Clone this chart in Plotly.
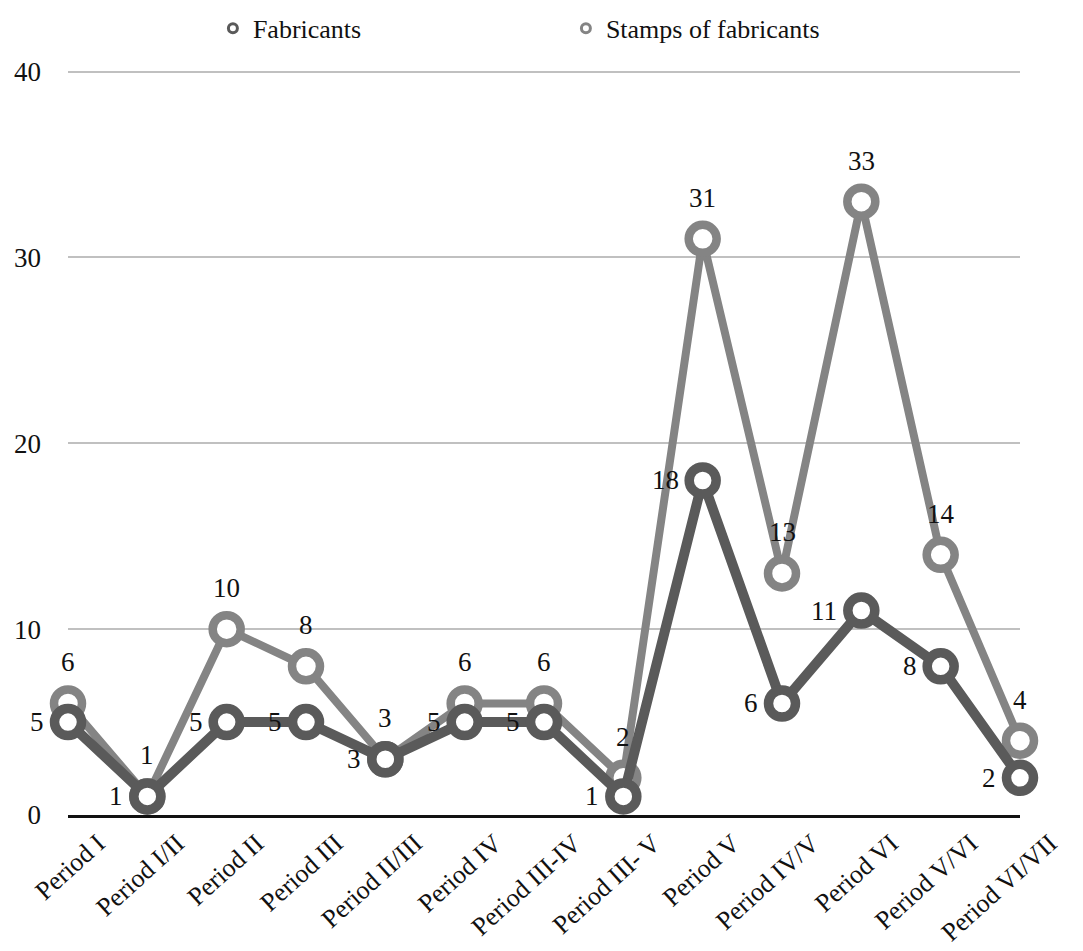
import plotly.graph_objects as go

# Categories and series
periods = [
    "Period I", "Period I/II", "Period II", "Period III", "Period II/III",
    "Period IV", "Period III-IV", "Period III- V", "Period V", "Period IV/V",
    "Period VI", "Period V/VI", "Period VI/VII",
]
fabricants = [5, 1, 5, 5, 3, 5, 5, 1, 18, 6, 11, 8, 2]
stamps = [6, 1, 10, 8, 3, 6, 6, 2, 31, 13, 33, 14, 4]
y_ticks = [0, 10, 20, 30, 40]

DARK = "#5a5a5a"
LIGHT = "#848484"
FONT = "Liberation Serif"

fig = go.Figure()

# Stamps drawn first so the Fabricants series sits on top
fig.add_trace(go.Scatter(
    x=periods, y=stamps, mode="lines+markers", showlegend=False,
    line=dict(color=LIGHT, width=8),
    marker=dict(symbol="circle", size=28, color="white",
                line=dict(color=LIGHT, width=8.5)),
    cliponaxis=False,
))
fig.add_trace(go.Scatter(
    x=periods, y=fabricants, mode="lines+markers", showlegend=False,
    line=dict(color=DARK, width=10),
    marker=dict(symbol="circle", size=27, color="white",
                line=dict(color=DARK, width=9.5)),
    cliponaxis=False,
))

# Compact legend entries
for name, col in [("Fabricants", DARK), ("Stamps of fabricants", LIGHT)]:
    fig.add_trace(go.Scatter(
        x=[None], y=[None], mode="markers", name=name,
        marker=dict(symbol="circle", size=9, color="white",
                    line=dict(color=col, width=3)),
    ))

# Value labels
annotations = []
for p, v in zip(periods, stamps):
    annotations.append(dict(x=p, y=v, text=str(v), showarrow=False,
                            xanchor="center", yanchor="middle", yshift=41,
                            font=dict(family=FONT, size=27, color="#111")))
for p, v in zip(periods, fabricants):
    annotations.append(dict(x=p, y=v, text=str(v), showarrow=False,
                            xanchor="right", yanchor="middle", xshift=-22,
                            font=dict(family=FONT, size=27, color="#111")))

fig.update_layout(
    width=1083, height=951,
    margin=dict(l=68, r=63, t=66, b=136, autoexpand=False),
    paper_bgcolor="white", plot_bgcolor="white",
    font=dict(family=FONT, size=26, color="#111"),
    showlegend=True,
    legend=dict(orientation="h", x=0.523, xanchor="center", y=0.995, yanchor="top",
                yref="container", entrywidth=308, entrywidthmode="pixels",
                font=dict(family=FONT, size=26, color="#111")),
    annotations=annotations,
)

fig.update_xaxes(
    type="category", range=[0, 12], showgrid=False, automargin=False,
    showline=True, linecolor="#111", linewidth=2.5,
    ticks="", tickangle=-42, ticklabelshift=30,
    tickfont=dict(family=FONT, size=26, color="#111"),
    zeroline=False,
)
fig.update_yaxes(
    range=[0, 40.3], tickvals=y_ticks, automargin=False,
    showgrid=True, gridcolor="#c0c0c0", gridwidth=2,
    zeroline=False, showline=False, ticks="",
    ticklabelstandoff=26,
    tickfont=dict(family=FONT, size=27, color="#111"),
)

fig.write_html("out.html")
